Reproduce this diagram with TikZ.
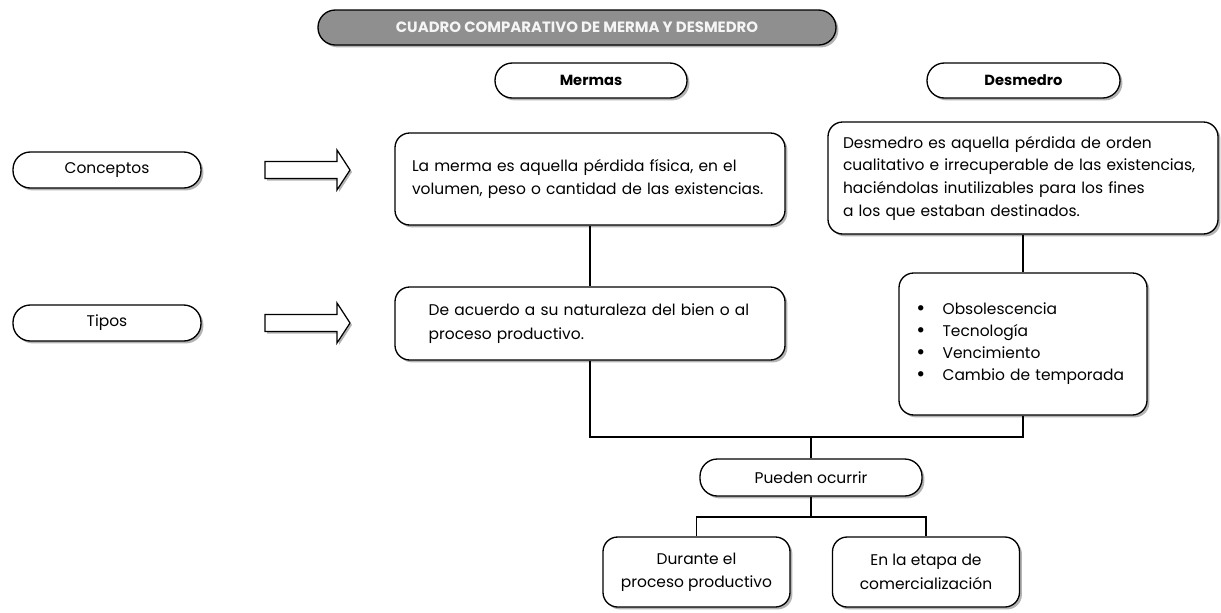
\documentclass[tikz,border=0pt]{standalone}
\usepackage{fontspec}
\setmainfont{Poppins}
\usetikzlibrary{shadows,positioning}
\definecolor{titlegray}{RGB}{143,143,143}
\definecolor{titletext}{RGB}{245,245,245}
\newcommand{\bigbullet}{\hspace*{6pt}\raisebox{-0.6pt}{\scalebox{1.4}{\textbullet}}\hspace{13pt}}

\begin{document}
\begin{tikzpicture}[
  x=0.75pt, y=-0.75pt,
  box/.style={draw=black, fill=white, line width=1pt, rounded corners=11pt,
    drop shadow={opacity=0.6, shadow xshift=1.8pt, shadow yshift=-1.8pt},
    font=\fontsize{11.6}{17.5}\selectfont, align=left, inner xsep=12.75pt},
  pill/.style={box, rounded corners=13pt, align=center, minimum height=26.25pt},
  headpill/.style={pill, font=\bfseries\fontsize{11}{12}\selectfont, minimum width=144pt},
  sidepill/.style={pill, minimum width=141pt, minimum height=27pt},
  blockarrow/.style={draw=black, fill=white, line width=0.9pt,
    drop shadow={opacity=0.6, shadow xshift=1.5pt, shadow yshift=-1.5pt}},
  link/.style={draw=black, line width=1pt}
]
  \useasboundingbox (0,0) rectangle (1221,612);

  % encabezados
  \node[pill, fill=titlegray, text=titletext, minimum width=388.5pt,
    font=\bfseries\fontsize{11.2}{12}\selectfont] (title) at (577,27.5)
    {CUADRO COMPARATIVO DE MERMA Y DESMEDRO};
  \node[headpill] (mermas) at (591,80.5) {Mermas};
  \node[headpill, minimum width=144.75pt] (desmedro) at (1023.5,80.5) {Desmedro};

  \node[sidepill] (conceptos) at (107,170) {Conceptos};
  \node[sidepill] (tipos) at (107,323) {Tipos};

  \foreach \y in {170,323} {
    \draw[blockarrow] (265,\y-8.5) -- (337,\y-8.5) -- (337,\y-20) -- (350,\y)
      -- (337,\y+20) -- (337,\y+8.5) -- (265,\y+8.5) -- cycle;
  }

  % mermas
  \node[box, minimum width=292.5pt, minimum height=69pt, text width=278pt, inner xsep=7pt] (mconcepto) at (590,179)
    {\hspace*{5.5pt}La merma es aquella pérdida física, en el\\\hspace*{5.5pt}volumen, peso o cantidad de las existencias.\\[5pt]};
  \node[box, minimum width=292.5pt, minimum height=54.75pt, text width=278pt, inner xsep=7pt] (mtipos) at (590,323.5)
    {\hspace*{18pt}De acuerdo a su naturaleza del bien o al\\\hspace*{18pt}proceso productivo.};

  % desmedro
  \node[box, minimum width=292.5pt, minimum height=84pt, text width=280pt, inner xsep=6pt,
    font=\fontsize{11.6}{17}\selectfont] (dconcepto) at (1023,178)
    {\hspace*{5pt}Desmedro es aquella pérdida de orden\\\hspace*{5pt}cualitativo e irrecuperable de las existencias,\\\hspace*{5pt}haciéndolas inutilizables para los fines\\\hspace*{5pt}a los que estaban destinados.};
  \node[box, minimum width=186pt, minimum height=106.5pt, text width=172pt, inner xsep=7pt,
    font=\fontsize{11.6}{16.5}\selectfont] (dtipos) at (1023,344)
    {\bigbullet Obsolescencia\\\bigbullet Tecnología\\\bigbullet Vencimiento\\\bigbullet Cambio de temporada};

  % ocurrencia
  \node[pill, minimum width=166.5pt, minimum height=27.75pt] (pueden) at (811,477.5) {Pueden ocurrir};
  \node[box, align=center, minimum width=140.25pt, minimum height=52.5pt] (durante) at (696.5,572)
    {Durante el\\proceso productivo};
  \node[box, align=center, minimum width=140.25pt, minimum height=52.5pt] (etapa) at (926,572)
    {En la etapa de\\comercialización};

  \coordinate (bus) at (811,437);
  \coordinate (split) at (811,517);
  \draw[link] (mconcepto) -- (mtipos);
  \draw[link] (dconcepto) -- (dtipos);
  \draw[link] (mtipos.south) |- (dtipos.south |- bus) -- (dtipos.south);
  \draw[link] (bus) -- (pueden.north);
  \draw[link] (pueden.south) -- (split);
  \draw[link] (durante.north) |- (split) -| (etapa.north);
\end{tikzpicture}
\end{document}
